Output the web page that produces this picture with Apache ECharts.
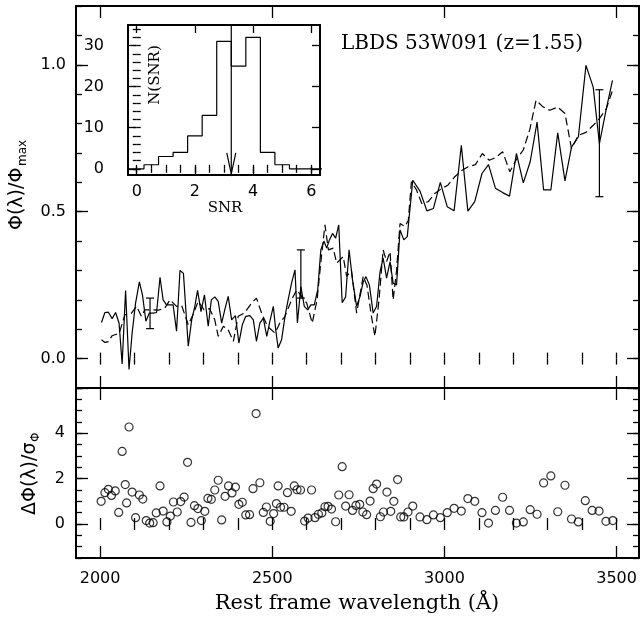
<!DOCTYPE html>
<html><head><meta charset="utf-8">
<script src="https://cdn.jsdelivr.net/npm/echarts@6/dist/echarts.min.js"></script>
<style>html,body{margin:0;padding:0;background:#fff}#c{width:641px;height:618px}</style>
</head><body><div id="c"></div>
<script>
// ---- observed spectrum (solid) ----
const specLambda = [2004,2014,2024,2035,2045,2055,2064,2074,2084,2093,2103,2114,2123,2133,2143,2154,2164,2174,2183,2193,2203,2212,2222,2232,2242,2256,2266,2275,2283,2293,2303,2314,2323,2333,2343,2353,2362,2372,2382,2393,2403,2413,2423,2435,2445,2454,2464,2474,2484,2493,2503,2510,2517,2527,2537,2546,2556,2566,2573,2583,2593,2603,2612,2622,2632,2641,2650,2658,2666,2675,2684,2693,2703,2713,2723,2733,2745,2755,2764,2772,2782,2793,2803,2813,2822,2832,2842,2851,2861,2871,2882,2892,2908,2929,2949,2968,2988,3008,3028,3049,3068,3088,3109,3128,3148,3169,3189,3209,3229,3249,3269,3288,3309,3329,3350,3369,3389,3411,3432,3450,3470,3488];
const specFlux = [0.123,0.157,0.158,0.136,0.157,0.121,-0.018,0.232,-0.037,0.087,0.189,0.261,0.217,0.127,0.155,0.155,0.157,0.277,0.2,0.183,0.183,0.183,0.093,0.30,0.29,0.042,0.132,0.177,0.232,0.16,0.217,0.11,0.20,0.21,0.195,0.121,0.166,0.212,0.132,0.146,0.053,0.115,0.144,0.146,0.132,0.059,0.121,0.138,0.076,0.127,0.178,0.098,0.036,0.064,0.144,0.2,0.257,0.302,0.121,0.245,0.178,0.166,0.183,0.183,0.234,0.37,0.40,0.376,0.404,0.426,0.41,0.455,0.19,0.21,0.37,0.268,0.178,0.212,0.26,0.279,0.251,0.155,0.178,0.296,0.342,0.274,0.33,0.257,0.251,0.438,0.404,0.415,0.607,0.57,0.503,0.511,0.60,0.517,0.503,0.726,0.502,0.534,0.63,0.66,0.58,0.565,0.553,0.698,0.598,0.67,0.805,0.574,0.574,0.768,0.605,0.72,0.755,0.998,0.924,0.732,0.85,0.947];
// ---- model spectrum (dashed) ----
const modelLambda = [2004,2014,2024,2035,2045,2055,2072,2091,2106,2120,2130,2154,2170,2188,2203,2222,2237,2256,2270,2285,2302,2318,2333,2343,2358,2372,2387,2401,2419,2440,2454,2469,2486,2508,2522,2537,2556,2571,2585,2600,2616,2630,2643,2653,2663,2677,2687,2706,2716,2730,2745,2764,2775,2788,2798,2810,2822,2832,2842,2851,2861,2871,2885,2895,2904,2919,2934,2953,2972,2992,3010,3030,3050,3069,3090,3110,3130,3150,3169,3190,3210,3229,3248,3266,3287,3306,3329,3350,3369,3389,3411,3432,3450,3470,3488];
const modelFlux = [0.064,0.055,0.058,0.078,0.082,0.085,0.149,0.155,0.178,0.144,0.166,0.166,0.165,0.172,0.2,0.178,0.18,0.115,0.15,0.195,0.166,0.17,0.132,0.076,0.11,0.098,0.059,0.144,0.155,0.189,0.206,0.155,0.11,0.087,0.121,0.144,0.2,0.234,0.212,0.189,0.121,0.2,0.35,0.455,0.37,0.376,0.325,0.347,0.28,0.30,0.155,0.279,0.25,0.144,0.076,0.20,0.37,0.33,0.364,0.2,0.30,0.46,0.45,0.47,0.602,0.574,0.528,0.534,0.562,0.579,0.59,0.619,0.64,0.653,0.66,0.698,0.675,0.685,0.704,0.636,0.68,0.71,0.78,0.879,0.856,0.845,0.856,0.834,0.715,0.76,0.77,0.794,0.817,0.85,0.913];
// ---- representative error bars ----
const errLambda = [2145, 2583, 3450];
const errLow = [0.102, 0.206, 0.551];
const errHigh = [0.206, 0.37, 0.915];
// ---- residuals ----
const residLambda = [2003,2014,2024,2033,2044,2054,2064,2073,2077,2084,2093,2103,2114,2124,2134,2144,2154,2163,2174,2183,2194,2204,2213,2224,2234,2244,2254,2264,2274,2284,2294,2304,2313,2323,2333,2343,2353,2363,2373,2383,2393,2403,2413,2423,2434,2444,2453,2464,2474,2483,2494,2504,2512,2517,2524,2534,2544,2555,2564,2572,2582,2594,2604,2614,2624,2634,2644,2653,2662,2672,2684,2693,2703,2713,2723,2733,2743,2754,2763,2774,2784,2793,2803,2814,2823,2833,2844,2853,2864,2873,2882,2894,2908,2929,2949,2968,2988,3008,3028,3049,3068,3088,3109,3128,3148,3169,3189,3209,3229,3249,3269,3288,3309,3329,3350,3369,3389,3409,3429,3449,3469,3489];
const residValue = [1.0,1.38,1.53,1.26,1.46,0.51,3.2,1.74,0.93,4.28,1.41,0.28,1.28,1.10,0.15,0.04,0.06,0.49,1.68,0.57,0.09,0.35,0.97,0.53,0.99,1.19,2.72,0.07,0.81,0.68,0.15,0.56,1.13,1.09,1.5,1.93,0.18,1.22,1.68,1.37,1.63,0.87,0.96,0.40,0.41,1.56,4.87,1.82,0.51,0.75,0.12,0.46,0.9,1.68,0.74,0.74,1.38,0.56,1.68,1.51,1.5,0.13,0.26,1.5,0.28,0.43,0.49,0.76,0.78,0.66,0.10,1.28,2.53,0.79,1.29,0.6,0.82,0.87,0.53,0.41,1.01,1.56,1.76,0.32,0.53,1.41,0.56,1.0,1.96,0.31,0.31,0.53,0.79,0.31,0.19,0.40,0.28,0.5,0.69,0.57,1.12,1.0,0.5,0.04,0.6,1.18,0.6,0.04,0.09,0.63,0.43,1.81,2.12,0.54,1.71,0.22,0.09,1.03,0.6,0.57,0.12,0.15];
// ---- SNR histogram (inset) ----
const snrBins = [-0.5,0,0.5,1,1.5,2,2.5,3,3.5,4,4.5,5,5.5,6,6.5];
const snrCounts = [0,0,1,3,4,8,13,31,25,32,4,1,0,0,0];
const snrMean = 3.25;
// ---- tick labels ----
const xTickLabels = [2000,2500,3000,3500];
const mainYTickLabels = [0,0.5,1.0];
const residYTickLabels = [0,2,4];
const insetXTickLabels = [0,2,4,6];
const insetYTickLabels = [0,10,20,30];

function range(a,b,s){const r=[];for(let k=0;a+k*s<=b+1e-9;k++)r.push(Math.round((a+k*s)*1000)/1000);return r;}

const FONT = 'DejaVu Sans';
const xAxes = [], yAxes = [];
function addFrame(list, dim, grid, min, max, majors, minors, labels, fmt, margin, majLen, minLen) {
  const pos = dim==='x' ? ['bottom','top'] : ['left','right'];
  const base = {type:'value', gridIndex:grid, min:min, max:max, splitLine:{show:false}, scale:false};
  const idx = list.length;
  pos.forEach((p, j) => {
    list.push(Object.assign({}, base, {
      position:p,
      axisLine:{show:true, onZero:false, lineStyle:{color:'#000', width:2}},
      axisTick:{show:true, inside:true, length:majLen, customValues:majors, lineStyle:{color:'#000', width:1.3}},
      axisLabel: (j===0 && labels) ? {show:true, customValues:labels, formatter:fmt, fontFamily:FONT, fontSize:16, color:'#000', margin:margin} : {show:false}
    }));
    list.push(Object.assign({}, base, {
      position:p,
      axisLine:{show:false},
      axisTick:{show:true, inside:true, length:minLen, customValues:minors, lineStyle:{color:'#000', width:1.3}},
      axisLabel:{show:false}
    }));
  });
  return idx;
}
const XMIN = 1930, XMAX = 3565;
const mainX = addFrame(xAxes,'x',0,XMIN,XMAX,xTickLabels,range(2000,3500,100),null,null,0,12,6);
const mainY = addFrame(yAxes,'y',0,-0.1,1.2,mainYTickLabels,range(-0.1,1.2,0.1),mainYTickLabels,v=>Number(v).toFixed(1),10,12,6);
const resX = addFrame(xAxes,'x',1,XMIN,XMAX,xTickLabels,range(2000,3500,100),xTickLabels,v=>String(v),13,12,6);
const resY = addFrame(yAxes,'y',1,-1.5,6,[0,2,4,6],range(-1.5,6,0.5),residYTickLabels,v=>String(v),11,12,6);
const insX = addFrame(xAxes,'x',2,-0.3,6.3,insetXTickLabels,range(0,6,0.5),insetXTickLabels,v=>String(v),9,8,4);
const insY = addFrame(yAxes,'y',2,-1.5,35,insetYTickLabels,range(0,34,2),insetYTickLabels,v=>String(v),24,8,4);

const line = {color:'#000', width:1.2};
const option = {
  animation:false,
  backgroundColor:'#fff',
  grid:[
    {left:76, top:6, width:563, height:382, containLabel:false, outerBoundsMode:'none'},
    {left:76, top:388, width:563, height:170, containLabel:false, outerBoundsMode:'none'},
    {left:128, top:25, width:192, height:150, containLabel:false, outerBoundsMode:'none'}
  ],
  xAxis:xAxes, yAxis:yAxes,
  series:[
    {type:'line', xAxisIndex:mainX, yAxisIndex:mainY, showSymbol:false, symbol:'none', lineStyle:line,
     data:specLambda.map((l,i)=>[l,specFlux[i]]), z:3},
    {type:'line', xAxisIndex:mainX, yAxisIndex:mainY, showSymbol:false, symbol:'none',
     lineStyle:{color:'#000', width:1.2, type:[8,4]},
     data:modelLambda.map((l,i)=>[l,modelFlux[i]]), z:3},
    {type:'custom', xAxisIndex:mainX, yAxisIndex:mainY, z:4,
     data:errLambda.map((l,i)=>[l,errLow[i],errHigh[i]]),
     encode:{x:0, y:[1,2]},
     renderItem:function(params, api){
       const x=api.value(0), lo=api.coord([x,api.value(1)]), hi=api.coord([x,api.value(2)]);
       const w=4, st={stroke:'#000', lineWidth:1.2};
       return {type:'group', children:[
         {type:'line', shape:{x1:lo[0],y1:lo[1],x2:hi[0],y2:hi[1]}, style:st},
         {type:'line', shape:{x1:lo[0]-w,y1:lo[1],x2:lo[0]+w,y2:lo[1]}, style:st},
         {type:'line', shape:{x1:hi[0]-w,y1:hi[1],x2:hi[0]+w,y2:hi[1]}, style:st}
       ]};
     }},
    {type:'scatter', xAxisIndex:resX, yAxisIndex:resY, symbol:'circle', symbolSize:8,
     itemStyle:{color:'rgba(255,255,255,0)', borderColor:'#000', borderWidth:1.2},
     data:residLambda.map((l,i)=>[l,residValue[i]])},
    {type:'line', xAxisIndex:insX, yAxisIndex:insY, step:'middle', showSymbol:false, symbol:'none', lineStyle:line,
     data:snrBins.map((b,i)=>[b,snrCounts[i]])},
    {type:'custom', xAxisIndex:insX, yAxisIndex:insY, z:4,
     data:[[snrMean, 35, -1.2]], encode:{x:0, y:[1,2]},
     renderItem:function(params, api){
       const x=api.value(0), top=api.coord([x,api.value(1)]), tip=api.coord([x,api.value(2)]);
       const st={stroke:'#000', lineWidth:1.2};
       return {type:'group', children:[
         {type:'line', shape:{x1:top[0],y1:top[1],x2:tip[0],y2:tip[1]}, style:st},
         {type:'polyline', shape:{points:[[tip[0]-4.5,tip[1]-21],[tip[0],tip[1]],[tip[0]+4.5,tip[1]-21]]}, style:{stroke:'#000', lineWidth:1.2, fill:null}}
       ]};
     }}
  ],
  graphic:[
    {type:'text', left:341, top:34, style:{text:'LBDS 53W091 (z=1.55)', font:'20px "DejaVu Serif"', fill:'#000'}},
    {type:'text', x:357, y:604, style:{text:'Rest frame wavelength (Å)', font:'21px "DejaVu Serif"', fill:'#000', align:'center', verticalAlign:'middle'}},
    {type:'text', x:225, y:208, style:{text:'SNR', font:'15px "DejaVu Serif"', fill:'#000', align:'center', verticalAlign:'middle'}},
    {type:'text', x:155, y:75, rotation:Math.PI/2, style:{text:'N(SNR)', font:'15px "DejaVu Serif"', fill:'#000', align:'center', verticalAlign:'middle'}},
    {type:'group', x:17, y:230, rotation:Math.PI/2, children:[
      {type:'text', x:0, y:0, style:{text:'Φ(λ)/Φ', font:'19px "DejaVu Sans"', fill:'#000', align:'left', verticalAlign:'middle'}},
      {type:'text', x:64, y:6, style:{text:'max', font:'12px "DejaVu Sans"', fill:'#000', align:'left', verticalAlign:'middle'}}
    ]},
    {type:'group', x:30, y:515, rotation:Math.PI/2, children:[
      {type:'text', x:0, y:0, style:{text:'ΔΦ(λ)/σ', font:'19px "DejaVu Sans"', fill:'#000', align:'left', verticalAlign:'middle'}},
      {type:'text', x:73, y:6, style:{text:'Φ', font:'12px "DejaVu Sans"', fill:'#000', align:'left', verticalAlign:'middle'}}
    ]}
  ]
};
const chart = echarts.init(document.getElementById('c'), null, {renderer:'canvas'});
chart.setOption(option);
</script></body></html>
